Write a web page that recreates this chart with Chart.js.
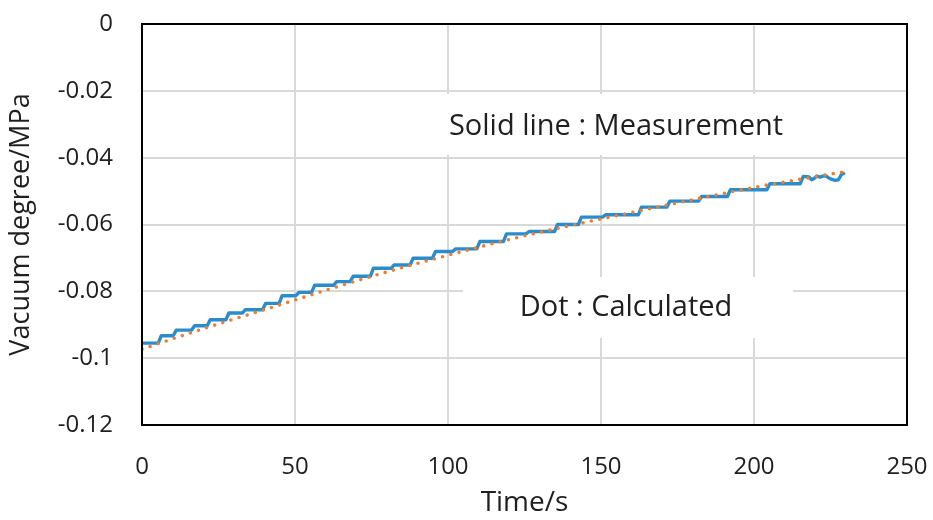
<!DOCTYPE html>
<html><head><meta charset="utf-8">
<style>html,body{margin:0;padding:0;background:#fff}#wrap{width:933px;height:520px}</style>
<script src="https://cdn.jsdelivr.net/npm/chart.js@4/dist/chart.umd.min.js"></script>
</head><body><div id="wrap"><canvas id="c" width="933" height="520"></canvas></div>
<script>
// Measured (solid, stair-step) series: time in s, vacuum degree in MPa
const measTime = [0, 5.3, 6.3, 10.2, 11.2, 16.2, 17.2, 21.3, 22.3, 27.4, 28.4, 32.8, 33.8, 39.4, 40.4, 44.8, 45.8, 50.3, 51.3, 55.4, 56.4, 62.6, 63.6, 68.0, 69.0, 74.6, 75.6, 81.4, 82.4, 87.6, 88.6, 94.9, 95.9, 101.5, 102.5, 109.4, 110.4, 118.1, 119.1, 125.5, 126.5, 134.8, 135.8, 142.6, 143.6, 150.5, 151.5, 162.2, 163.2, 171.5, 172.5, 181.9, 182.9, 191.3, 192.3, 204.2, 205.2, 215.1, 216.1, 218.0, 218.8, 219.7, 220.5, 221.6, 223.2, 224.8, 226.5, 227.6, 228.6, 229.7];
const measValue = [-0.0955, -0.0955, -0.0933, -0.0933, -0.0916, -0.0916, -0.0903, -0.0903, -0.0885, -0.0885, -0.0865, -0.0865, -0.0855, -0.0855, -0.0836, -0.0836, -0.0813, -0.0813, -0.0803, -0.0803, -0.0782, -0.0782, -0.0771, -0.0771, -0.0755, -0.0755, -0.0731, -0.0731, -0.0721, -0.0721, -0.0701, -0.0701, -0.0681, -0.0681, -0.0673, -0.0673, -0.0651, -0.0651, -0.0628, -0.0628, -0.0621, -0.0621, -0.0600, -0.0600, -0.0578, -0.0578, -0.0571, -0.0571, -0.0548, -0.0548, -0.0530, -0.0530, -0.0516, -0.0516, -0.0496, -0.0496, -0.0478, -0.0478, -0.0456, -0.0458, -0.0466, -0.0462, -0.0455, -0.0458, -0.0453, -0.0463, -0.0468, -0.0466, -0.0450, -0.0446];
// Calculated (dotted) series
const calcTime  = [0, 20, 40, 60, 80, 100, 120, 140, 160, 180, 200, 220, 229];
const calcValue = [-0.0973, -0.0912, -0.0855, -0.0797, -0.0742, -0.0692, -0.0645, -0.0603, -0.0564, -0.0526, -0.0489, -0.0457, -0.0443];
// Axis ticks
const xTickLabels = ['0', '50', '100', '150', '200', '250'];
const yTickLabels = ['-0.12', '-0.1', '-0.08', '-0.06', '-0.04', '-0.02', '0'];
// Annotations
const noteTexts = ['Solid line : Measurement', 'Dot : Calculated'];

const measPts = measTime.map((t, i) => ({x: t, y: measValue[i]}));
const calcPts = calcTime.map((t, i) => ({x: t, y: calcValue[i]}));

const FONT = '"Open Sans", "DejaVu Sans", sans-serif';
const TXT = '#1f1f1f';

const notesPlugin = {
  id: 'notes',
  beforeDatasetsDraw(chart) {
    const ctx = chart.ctx;
    const boxes = [
      {x: 440, y: 94, w: 352, h: 61, tx: 616, ty: 127},
      {x: 463, y: 277, w: 330, h: 61, tx: 626, ty: 308}
    ];
    ctx.save();
    ctx.font = '29px ' + FONT;
    ctx.textAlign = 'center';
    ctx.textBaseline = 'middle';
    boxes.forEach((b, i) => {
      ctx.fillStyle = '#ffffff';
      ctx.fillRect(b.x, b.y, b.w, b.h);
      ctx.fillStyle = TXT;
      ctx.fillText(noteTexts[i], b.tx, b.ty);
    });
    ctx.restore();
  }
};
const framePlugin = {
  id: 'frame',
  afterDatasetsDraw(chart) {
    const a = chart.chartArea, ctx = chart.ctx;
    ctx.save();
    ctx.strokeStyle = '#000';
    ctx.lineWidth = 2;
    ctx.strokeRect(a.left, a.top, a.right - a.left, a.bottom - a.top);
    ctx.restore();
  }
};
function noPad(s) { s.paddingLeft = 0; s.paddingRight = 0; s.paddingTop = 0; s.paddingBottom = 0; }

new Chart(document.getElementById('c'), {
  type: 'line',
  data: {
    datasets: [
      {
        label: 'Calculated', data: calcPts, order: 0,
        borderColor: '#ED7D31', borderWidth: 3.6, borderDash: [0, 8.5], borderCapStyle: 'round',
        cubicInterpolationMode: 'monotone', pointRadius: 0, fill: false
      },
      {
        label: 'Measurement', data: measPts, order: 1,
        borderColor: '#2B8CCB', borderWidth: 3.4, tension: 0, borderJoinStyle: 'round',
        pointRadius: 0, fill: false
      }
    ]
  },
  options: {
    responsive: false, animation: false, devicePixelRatio: 1,
    layout: {padding: {left: 0, right: 26, top: 24, bottom: 0}},
    plugins: {legend: {display: false}, tooltip: {enabled: false}},
    scales: {
      x: {
        type: 'linear', min: 0, max: 250,
        afterFit(s) { s.height = 95; noPad(s); },
        border: {display: false},
        grid: {color: '#d9d9d9', lineWidth: 2, drawTicks: false},
        ticks: {stepSize: 50, padding: 28, color: TXT, font: {family: FONT, size: 24},
          callback: (v, i) => xTickLabels[i]},
        title: {display: true, text: 'Time/s', color: TXT, font: {family: FONT, size: 28}, padding: {top: 0, bottom: 0}}
      },
      y: {
        type: 'linear', min: -0.12, max: 0,
        afterFit(s) { s.width = 142; noPad(s); },
        border: {display: false},
        grid: {color: '#d9d9d9', lineWidth: 2, drawTicks: false},
        ticks: {stepSize: 0.02, padding: 29, color: TXT, font: {family: FONT, size: 24},
          callback: (v, i) => yTickLabels[i]},
        title: {display: true, text: 'Vacuum degree/MPa', color: TXT, font: {family: FONT, size: 27}, padding: {top: 5, bottom: 0}}
      }
    }
  },
  plugins: [notesPlugin, framePlugin]
});
</script></body></html>
